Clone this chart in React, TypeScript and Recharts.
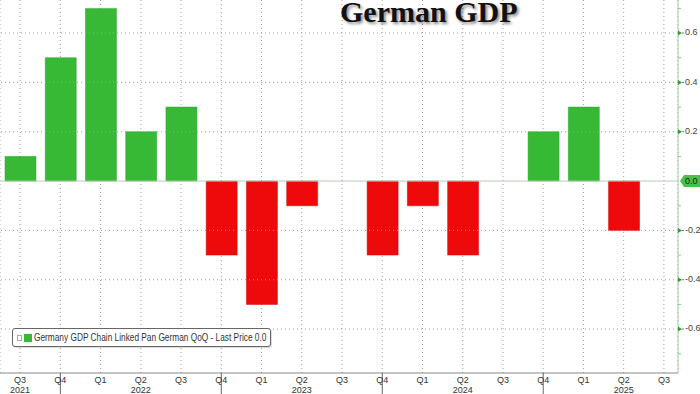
import { BarChart, Bar, XAxis, YAxis, CartesianGrid, ReferenceLine, Cell } from 'recharts';

// German GDP, chain linked, QoQ %
const quarters = ['Q3', 'Q4', 'Q1', 'Q2', 'Q3', 'Q4', 'Q1', 'Q2', 'Q3', 'Q4', 'Q1', 'Q2', 'Q3', 'Q4', 'Q1', 'Q2', 'Q3'];
const years = ['2021', '', '', '2022', '', '', '', '2023', '', '', '', '2024', '', '', '', '2025', ''];
const gdpQoQ = [0.1, 0.5, 0.7, 0.2, 0.3, -0.3, -0.5, -0.1, 0.0, -0.3, -0.1, -0.3, 0.0, 0.2, 0.3, -0.2, 0.0];
const majorTicks = [-0.6, -0.4, -0.2, 0, 0.2, 0.4, 0.6];
const minorTicks = [-0.7, -0.5, -0.3, -0.1, 0.1, 0.3, 0.5, 0.7];

const data = quarters.map((q, i) => ({ idx: i, q, year: years[i], value: gdpQoQ[i] }));

const GREEN = '#37b935';
const RED = '#ee0a0a';

const XTick = (props: any) => {
  const { x, y, payload } = props;
  const d = data[payload.value];
  if (!d) return null;
  return (
    <g>
      {d.q === 'Q4' && <line x1={x} x2={x} y1={y} y2={y + 24} stroke="#666" strokeWidth={1} />}
      <text x={x} y={y + 8} textAnchor="middle" dominantBaseline="middle" fontSize={9} fill="#333" fontFamily="Liberation Sans, Arial, sans-serif">
        {d.q}
      </text>
      {d.year && (
        <text x={x} y={y + 18} textAnchor="middle" dominantBaseline="middle" fontSize={9} fill="#333" fontFamily="Liberation Sans, Arial, sans-serif">
          {d.year}
        </text>
      )}
    </g>
  );
};

const YTick = (props: any) => {
  const { x, y, payload } = props;
  const v = payload.value as number;
  const ax = x;
  const isMajor = majorTicks.some((m) => Math.abs(m - v) < 1e-6);
  if (!isMajor) {
    return <line x1={ax} x2={ax + 3} y1={y} y2={y} stroke="#8cc88c" strokeWidth={1} />;
  }
  if (Math.abs(v) < 1e-6) {
    return (
      <g>
        <path d={`M${ax + 2},${y} L${ax + 6},${y - 6} L${ax + 24},${y - 6} L${ax + 24},${y + 6} L${ax + 6},${y + 6} Z`} fill="#4cbf4c" />
        <text x={ax + 7} y={y + 0.5} dominantBaseline="middle" fontSize={9} fill="#0d2a0d" fontFamily="Liberation Sans, Arial, sans-serif">
          0.0
        </text>
      </g>
    );
  }
  return (
    <g>
      <path d={`M${ax},${y - 2.5} L${ax + 4},${y} L${ax},${y + 2.5} Z`} fill="#3a9a3a" />
      <line x1={ax + 4} x2={ax + 6} y1={y} y2={y} stroke="#777" strokeWidth={1} />
      <text x={ax + 7} y={y} dominantBaseline="middle" fontSize={9} fill="#444" fontFamily="Liberation Sans, Arial, sans-serif">
        {v.toFixed(1)}
      </text>
    </g>
  );
};

export default function App() {
  return (
    <div style={{ position: 'absolute', left: 0, top: 0, width: 700, height: 394, overflow: 'hidden', background: '#fff' }}>
      <BarChart width={700} height={394} data={data} margin={{ top: 0, right: 0, bottom: 0, left: 0 }}>
        <CartesianGrid horizontal={false} stroke="#a0a0a0" strokeDasharray="1 3" />
        {majorTicks.filter((t) => t !== 0).map((t) => (
          <ReferenceLine key={t} y={t} stroke="#a0a0a0" strokeDasharray="1 3" />
        ))}
        <XAxis
          dataKey="idx"
          type="number"
          domain={[-0.5, 16.35]}
          ticks={data.map((d) => d.idx)}
          interval={0}
          height={21}
          axisLine={{ stroke: '#888' }}
          tickLine={false}
          tickSize={0}
          tickMargin={0}
          tick={<XTick />}
        />
        <YAxis
          orientation="right"
          domain={[-0.778, 0.734]}
          ticks={[...majorTicks, ...minorTicks].sort((a, b) => a - b)}
          interval={0}
          width={22}
          axisLine={{ stroke: '#9fd49f' }}
          tickLine={false}
          tickSize={0}
          tickMargin={0}
          tick={<YTick />}
        />
        <ReferenceLine y={0} stroke="#b8ccb4" strokeWidth={1} />
        <Bar dataKey="value" barSize={31} isAnimationActive={false}>
          {data.map((d) => (
            <Cell key={d.idx} fill={d.value >= 0 ? GREEN : RED} stroke={d.value >= 0 ? '#2ea52c' : '#c80808'} strokeWidth={0.5} />
          ))}
        </Bar>
      </BarChart>

      <div
        style={{
          position: 'absolute',
          left: 340,
          top: 0,
          fontFamily: 'Liberation Serif, Times New Roman, serif',
          fontWeight: 'bold',
          fontSize: 30,
          lineHeight: '24px',
          color: '#111',
          textShadow: '2px 2px 3px rgba(0,0,0,0.45)',
          whiteSpace: 'nowrap',
        }}
      >
        German GDP
      </div>

      <div
        style={{
          position: 'absolute',
          left: 12,
          top: 328,
          width: 257,
          height: 17,
          border: '1px solid #666',
          borderRadius: 3,
          background: '#fff',
          display: 'flex',
          alignItems: 'center',
          boxShadow: '1px 1px 1px rgba(0,0,0,0.15)',
          overflow: 'hidden',
        }}
      >
        <span style={{ flexShrink: 0, width: 3, height: 4, border: '1px solid #aaa', marginLeft: 4, marginRight: 2 }} />
        <span style={{ flexShrink: 0, width: 8, height: 8, background: GREEN, marginRight: 2 }} />
        <span
          style={{
            flexShrink: 0,
            display: 'inline-block',
            fontFamily: 'Liberation Sans, Arial, sans-serif',
            fontSize: 10,
            color: '#333',
            whiteSpace: 'nowrap',
            transform: 'scaleX(0.83)',
            transformOrigin: 'left center',
          }}
        >
          Germany GDP Chain Linked Pan German QoQ - Last Price 0.0
        </span>
      </div>
    </div>
  );
}
